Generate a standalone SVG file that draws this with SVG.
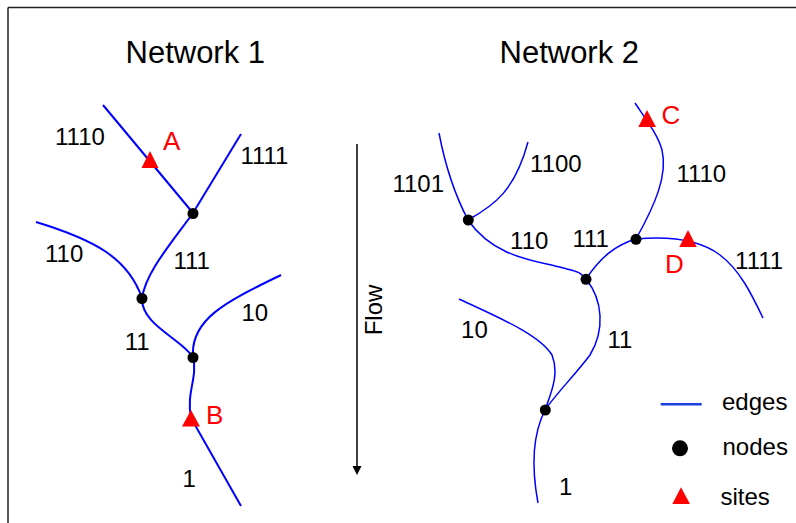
<svg xmlns="http://www.w3.org/2000/svg" width="796" height="523" viewBox="0 0 796 523">
<style>
text{font-family:"Liberation Sans",Arial,sans-serif;fill:#000}
.t{font-size:31px}
.l{font-size:24px}
.s{font-size:26px;fill:#ff0000}
.e1{fill:none;stroke:#0000ff;stroke-width:2}
.e2{fill:none;stroke:#0000ff;stroke-width:1.5}
.n{fill:#000}
.site{fill:#ff0000}
</style>
<rect width="796" height="523" fill="#fff"/>
<path d="M8,7.5H796M8,7.5V523" fill="none" stroke="#222" stroke-width="1.5"/>
<text class="t" x="125.5" y="63">Network 1</text>
<text class="t" x="499.5" y="63">Network 2</text>
<g id="flow">
<line x1="357" y1="144" x2="357" y2="467" stroke="#000" stroke-width="1.5"/>
<polygon points="352.5,466 361.5,466 357,475" fill="#000"/>
<text class="l" transform="translate(381.5,310) rotate(-90)" text-anchor="middle">Flow</text>
</g>
<g id="connectors">
<path class="e1" d="M103,105 L193,213"/>
<path class="e1" d="M241,134 L193,213"/>
<path class="e1" d="M193,213 C170,245 146,272 142,298"/>
<path class="e1" d="M36,222 C95,240 128,258 142,298"/>
<path class="e1" d="M142,299 C142,325 180,338 193,357"/>
<path class="e1" d="M281,275 C230,300 190,318 193,357"/>
<path class="e1" d="M193,357 C198,378 186,392 191,418 L241,506"/>
<path class="e2" d="M439,133 C446,170 455,195 468,220"/>
<path class="e2" d="M468,220 C495,205 515,190 528,142"/>
<path class="e2" d="M468,220 C492,255 530,260 555,266 S580,272 586,279"/>
<path class="e2" d="M586,279 C600,258 615,245 636,239"/>
<path class="e2" d="M636,239 C655,205 668,175 662,150 C658,135 645,118 635,103"/>
<path class="e2" d="M636,239 C670,236 700,240 720,255 C740,270 752,295 763,318"/>
<path class="e2" d="M586,279 C603,300 605,330 590,355 C575,375 555,395 545,410"/>
<path class="e2" d="M459,299 C500,318 540,335 552,355 C560,375 550,395 545,410"/>
<path class="e2" d="M545,410 C535,430 530,460 538,503"/>
</g>
<g id="n1-node-111"><circle class="n" cx="193" cy="213.5" r="5.5"/></g>
<g id="n1-node-11"><circle class="n" cx="142" cy="298.5" r="5.5"/></g>
<g id="n1-node-1"><circle class="n" cx="193" cy="357.5" r="5.5"/></g>
<g id="n1-site-A"><polygon class="site" points="150,151 141.5,168 158.5,168"/><text class="s" x="163" y="150">A</text></g>
<g id="n1-site-B"><polygon class="site" points="191,410 182,426.5 200,426.5"/><text class="s" x="206" y="423.5">B</text></g>
<g id="n1-labels">
<text class="l" x="55" y="145">1110</text>
<text class="l" x="240.4" y="164">1111</text>
<text class="l" x="45" y="262">110</text>
<text class="l" x="173.4" y="269">111</text>
<text class="l" x="124.7" y="350">11</text>
<text class="l" x="241.4" y="321">10</text>
<text class="l" x="182.4" y="486.5">1</text>
</g>
<g id="n2-node-110"><circle class="n" cx="468.3" cy="220" r="5.5"/></g>
<g id="n2-node-11"><circle class="n" cx="586" cy="279.3" r="5.5"/></g>
<g id="n2-node-111"><circle class="n" cx="636" cy="239.3" r="5.5"/></g>
<g id="n2-node-1"><circle class="n" cx="545.3" cy="410" r="5.5"/></g>
<g id="n2-site-C"><polygon class="site" points="647,110 638.3,127 656,127"/><text class="s" x="661.5" y="124.3">C</text></g>
<g id="n2-site-D"><polygon class="site" points="688,230 679.3,247 696.7,247"/><text class="s" x="665" y="273.3">D</text></g>
<g id="n2-labels">
<text class="l" x="392.4" y="191.7">1101</text>
<text class="l" x="530.1" y="171.7">1100</text>
<text class="l" x="676.4" y="181.7">1110</text>
<text class="l" x="510.1" y="249.3">110</text>
<text class="l" x="572.4" y="246.7">111</text>
<text class="l" x="735.1" y="269">1111</text>
<text class="l" x="461.1" y="338.3">10</text>
<text class="l" x="607.4" y="348.3">11</text>
<text class="l" x="559.1" y="495">1</text>
</g>
<g id="legend">
<line x1="660.7" y1="404.3" x2="701.7" y2="404.3" stroke="#1a3fe0" stroke-width="2.5"/>
<text class="l" x="722" y="409.5">edges</text>
<circle class="n" cx="680" cy="448.3" r="8"/>
<text class="l" x="722.5" y="455">nodes</text>
<polygon class="site" points="681,487.3 672.3,504 690,504"/>
<text class="l" x="720.5" y="505">sites</text>
</g>
</svg>
